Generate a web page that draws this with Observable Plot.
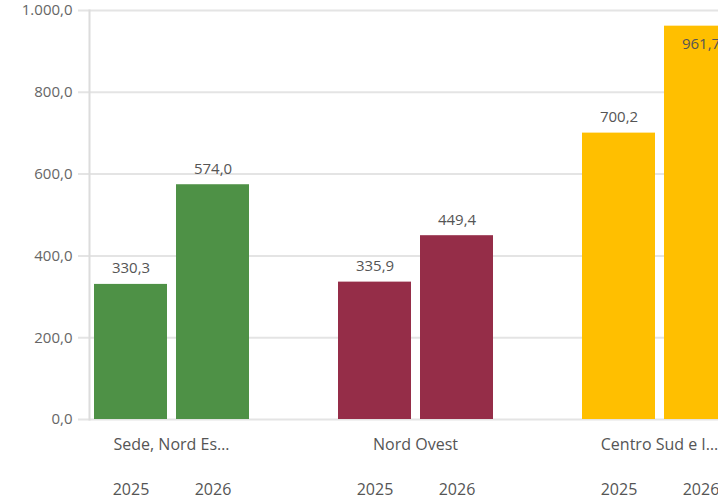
<!DOCTYPE html>
<html>
<head>
<meta charset="utf-8">
<script src="https://cdn.jsdelivr.net/npm/d3@7"></script>
<script src="https://cdn.jsdelivr.net/npm/@observablehq/plot@0.6"></script>
<style>
  html, body { margin: 0; padding: 0; background: #fff; overflow: hidden; }
  #chart { width: 718px; height: 499px; overflow: hidden; }
  #chart svg { max-width: none !important; }
</style>
</head>
<body>
<div id="chart"></div>
<script>
const categories = ["Sede, Nord Es…", "Nord Ovest", "Centro Sud e I…"];
const years = [2025, 2026];
const values2025 = [330.3, 335.9, 700.2];
const values2026 = [574.0, 449.4, 961.7];
const categoryColors = ["#4e9146", "#952d48", "#ffbf00"];
const yTicks = [0, 200, 400, 600, 800, 1000];

const rows = categories.flatMap((c, i) => [
  {category: c, year: years[0], value: values2025[i]},
  {category: c, year: years[1], value: values2026[i]}
]);

const it = d3.formatLocale({decimal: ",", thousands: ".", grouping: [3], currency: ["", " €"]});
const fmt = it.format(",.1f");
const font = "'Open Sans', sans-serif";
const fitsAbove = d => d.value < 900;

const chart = Plot.plot({
  width: 741,
  height: 499,
  marginLeft: 89,
  marginRight: 0,
  marginTop: 10,
  marginBottom: 80,
  style: {fontFamily: font, fontSize: "15px", color: "#666", background: "#fff", overflow: "visible", maxWidth: "none"},
  facet: {data: rows, x: "category"},
  fx: {domain: categories, paddingInner: 0.328, paddingOuter: 0, label: null},
  x: {domain: years, paddingInner: 0.11, paddingOuter: 0.055, label: null},
  y: {domain: [0, 1000], label: null},
  color: {domain: categories, range: categoryColors},
  marks: [
    Plot.gridY(yTicks, {facetAnchor: "left", insetLeft: -11, insetRight: -520, stroke: "#e4e4e4", strokeOpacity: 1, strokeWidth: 2}),
    Plot.frame({anchor: "left", facetAnchor: "left", stroke: "#dcdcdc", strokeWidth: 2}),
    Plot.axisY(yTicks, {tickSize: 0, tickPadding: 17, tickFormat: fmt, fill: "#666", fontSize: 15, label: null}),
    Plot.barY(rows, {x: "year", y: "value", fill: "category"}),
    Plot.text(rows, {filter: fitsAbove, x: "year", y: "value", text: d => fmt(d.value), lineAnchor: "bottom", dy: -11, fill: "#555", fontSize: 15}),
    Plot.text(rows, {filter: d => !fitsAbove(d), x: "year", y: "value", text: d => fmt(d.value), lineAnchor: "top", dy: 12, fill: "#555", fontSize: 15}),
    Plot.axisFx({anchor: "bottom", tickSize: 0, tickPadding: 19, fill: "#555", fontSize: 16, label: null}),
    Plot.axisX({anchor: "bottom", tickSize: 0, tickPadding: 64, tickFormat: d => `${d}`, fill: "#555", fontSize: 16, label: null})
  ]
});
document.getElementById("chart").appendChild(chart);
</script>
</body>
</html>
